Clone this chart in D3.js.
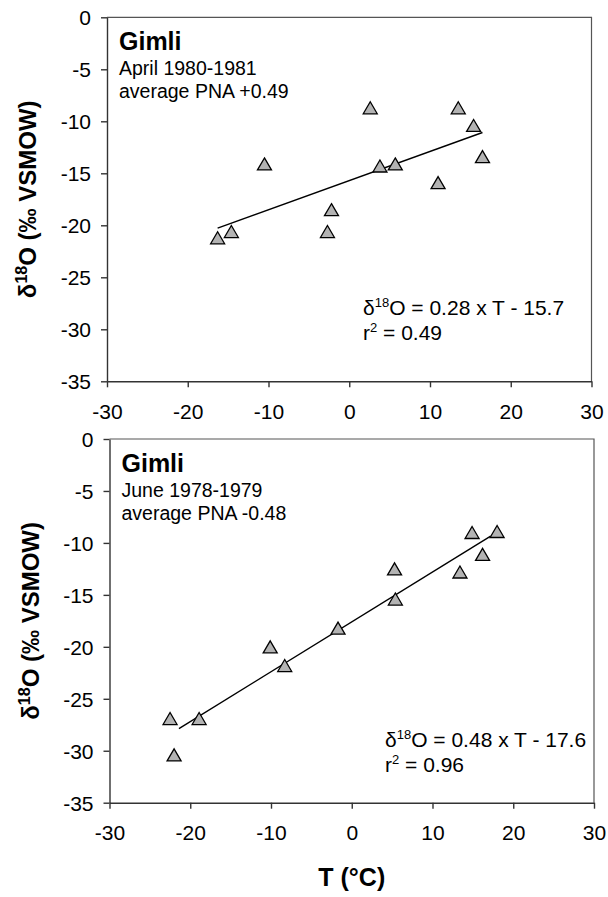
<!DOCTYPE html>
<html>
<head>
<meta charset="utf-8">
<script src="https://cdn.jsdelivr.net/npm/d3@7"></script>
<style>
  html, body { margin: 0; padding: 0; background: #fff; }
  svg { display: block; font-family: "Liberation Sans", Arial, Helvetica, sans-serif; }
</style>
</head>
<body>
<svg id="chart" width="608" height="897"></svg>
<script>
// Gimli: monthly precipitation δ18O against surface air temperature
const xTicks = [-30, -20, -10, 0, 10, 20, 30];
const yTicks = [0, -5, -10, -15, -20, -25, -30, -35];

// April 1980-1981
const aprilTemp  = [-16.3, -14.6, -10.5, -2.7, -2.2, 2.6, 3.8, 5.7, 11.0, 13.5, 15.4, 16.5];
const aprilD18O  = [-21.2, -20.6, -14.1, -20.6, -18.5, -8.7, -14.3, -14.1, -15.9, -8.7, -10.4, -13.4];
const aprilFit   = [0.28, -15.7];        // slope, intercept
const aprilFitT  = [-16.3, 16.5];        // temperature span of the fitted line
const aprilR2    = "0.49";
const aprilLines = ["Gimli", "April 1980-1981", "average PNA +0.49"];

// June 1978-1979
const juneTemp   = [-22.5, -22.0, -18.9, -10.1, -8.3, -1.7, 5.3, 5.4, 13.4, 14.9, 16.2, 18.0];
const juneD18O   = [-26.9, -30.4, -26.9, -20.0, -21.8, -18.2, -12.5, -15.4, -12.8, -9.0, -11.1, -8.9];
const juneFit    = [0.48, -17.6];
const juneFitT   = [-21.4, 17.2];
const juneR2     = "0.96";
const juneLines  = ["Gimli", "June 1978-1979", "average PNA -0.48"];

const svg = d3.select("#chart");
const TICK_FONT = 21;
const TEXT_FONT = 21;
const NOTE_FONT = 19.5;

function panel(opt) {
  const x = d3.scaleLinear().domain([-30, 30]).range([opt.left, opt.right]);
  const y = d3.scaleLinear().domain([-35, 0]).range([opt.bottom, opt.top]);
  const g = svg.append("g");

  // frame (top and right)
  g.append("path")
    .attr("d", `M${opt.left},${opt.top}H${opt.right}V${opt.bottom}`)
    .attr("fill", "none").attr("stroke", "#555").attr("stroke-width", 1.2);

  // axes, labels with a plain hyphen for negatives
  const fmt = d => String(d);
  const xAxis = d3.axisBottom(x).tickValues(xTicks).tickFormat(fmt)
    .tickSize(6).tickSizeOuter(0).tickPadding(opt.xPad);
  const yAxis = d3.axisLeft(y).tickValues(yTicks).tickFormat(fmt)
    .tickSize(6).tickSizeOuter(0).tickPadding(10);
  const gx = g.append("g").attr("transform", `translate(0,${opt.bottom})`).call(xAxis);
  const gy = g.append("g").attr("transform", `translate(${opt.left},0)`).call(yAxis);
  [gx, gy].forEach(a => {
    a.selectAll("path.domain").attr("stroke", "#333").attr("stroke-width", 1.4);
    a.selectAll(".tick line").attr("stroke", "#333").attr("stroke-width", 1.4);
    a.selectAll(".tick text").attr("fill", "#000").style("font-size", TICK_FONT + "px")
      .style("font-family", "'Liberation Sans', Arial, sans-serif");
  });
  gx.selectAll(".tick text").attr("dy", "0.71em");
  gy.selectAll(".tick text").attr("dy", "0.35em");

  // regression line
  const fitLine = d3.line().x(t => x(t)).y(t => y(opt.fit[0] * t + opt.fit[1]));
  g.append("path").datum(opt.fitT).attr("d", fitLine)
    .attr("fill", "none").attr("stroke", "#000").attr("stroke-width", 1.4);

  // triangle markers, centred on their bounding box
  const w = 14, h = 12;
  const tri = `M0,${-h / 2}L${w / 2},${h / 2}L${-w / 2},${h / 2}Z`;
  const pts = opt.temp.map((t, i) => ({ t, v: opt.d18o[i] }));
  g.selectAll("path.pt").data(pts).join("path")
    .attr("class", "pt")
    .attr("d", tri)
    .attr("transform", d => `translate(${x(d.t)},${y(d.v)})`)
    .attr("fill", "#b3b3b3").attr("stroke", "#000").attr("stroke-width", 1.3)
    .attr("stroke-linejoin", "miter");

  // station label
  const lx = opt.left + 12;
  g.append("text").attr("x", lx).attr("y", opt.top + 33)
    .style("font-size", "25px").style("font-weight", "bold").text(opt.lines[0]);
  g.append("text").attr("x", lx).attr("y", opt.top + 58)
    .style("font-size", NOTE_FONT + "px").text(opt.lines[1]);
  g.append("text").attr("x", lx).attr("y", opt.top + 80.5)
    .style("font-size", NOTE_FONT + "px").text(opt.lines[2]);

  // regression equation
  const eq = g.append("text").attr("x", opt.eqX).attr("y", opt.eqY).style("font-size", TEXT_FONT + "px");
  eq.append("tspan").text("δ");
  eq.append("tspan").attr("dy", -8).style("font-size", "13px").text("18");
  eq.append("tspan").attr("dy", 8)
    .text(`O = ${opt.fit[0].toFixed(2)} x T - ${Math.abs(opt.fit[1]).toFixed(1)}`);
  const r = g.append("text").attr("x", opt.eqX).attr("y", opt.eqY + 25).style("font-size", TEXT_FONT + "px");
  r.append("tspan").text("r");
  r.append("tspan").attr("dy", -8).style("font-size", "13px").text("2");
  r.append("tspan").attr("dy", 8).text(` = ${opt.r2}`);

  // y-axis title
  const yt = g.append("text")
    .attr("transform", `translate(${opt.left - 71},${(opt.top + opt.bottom) / 2}) rotate(-90)`)
    .attr("text-anchor", "middle").style("font-size", "24px").style("font-weight", "bold");
  yt.append("tspan").text("δ");
  yt.append("tspan").attr("dy", -9).style("font-size", "16px").text("18");
  yt.append("tspan").attr("dy", 9).text("O (‰ VSMOW)");

  return x;
}

panel({
  left: 107, right: 591.5, top: 17.3, bottom: 381.3, xPad: 17,
  temp: aprilTemp, d18o: aprilD18O, fit: aprilFit, fitT: aprilFitT, r2: aprilR2,
  lines: aprilLines, eqX: 363, eqY: 315
});

const xb = panel({
  left: 109.5, right: 594, top: 439, bottom: 802.7, xPad: 16,
  temp: juneTemp, d18o: juneD18O, fit: juneFit, fitT: juneFitT, r2: juneR2,
  lines: juneLines, eqX: 385, eqY: 747
});

// x-axis title
svg.append("text")
  .attr("x", xb(0)).attr("y", 886)
  .attr("text-anchor", "middle").style("font-size", "25px").style("font-weight", "bold")
  .text("T (°C)");
</script>
</body>
</html>
